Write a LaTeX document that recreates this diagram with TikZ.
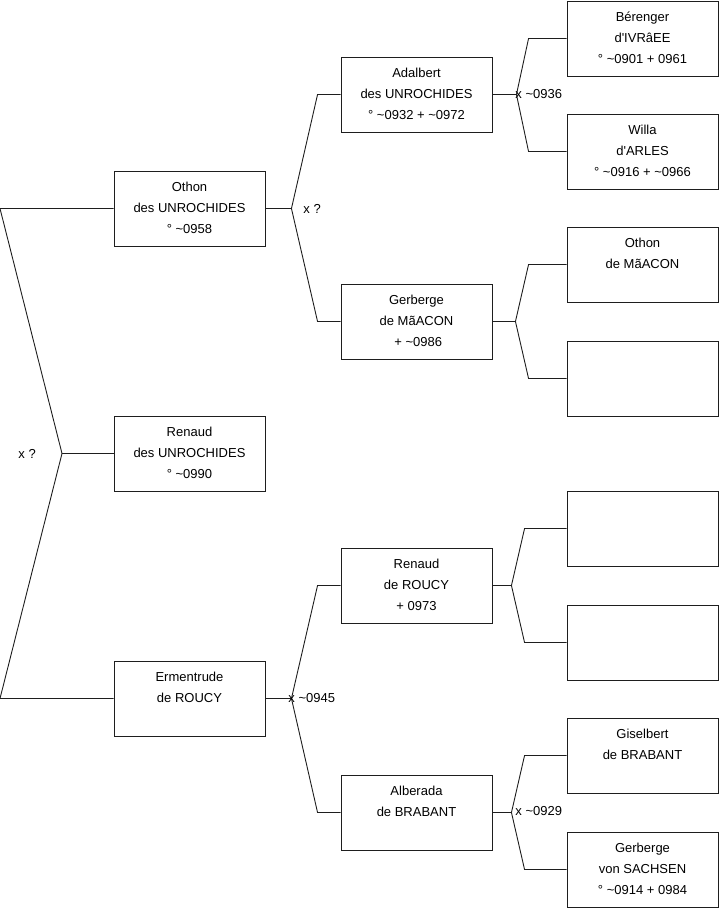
\documentclass[tikz,border=0pt]{standalone}
\usepackage{fontspec}
\setmainfont{Liberation Sans}
\usetikzlibrary{calc}
\definecolor{lnblack}{RGB}{30,30,30}

\begin{document}
\begin{tikzpicture}[
  x=1pt,y=-1pt,
  line width=0.9pt,
  person/.style={draw=lnblack,fill=white,minimum width=151pt,minimum height=75pt,inner sep=0pt,
    font=\fontsize{13pt}{21pt}\selectfont,
    execute at begin node={\begin{minipage}[t][75pt][t]{151pt}\centering\rule{0pt}{20pt}},
    execute at end node={\end{minipage}}},
  lbl/.style={font=\fontsize{13pt}{21pt}\selectfont,inner sep=0pt,anchor=west},
]
  \useasboundingbox (0,0) rectangle (719,908);
  % generation 1
  \node[person] (othon)      at (189.5,208.5) {Othon\\des UNROCHIDES\\° \textasciitilde0958};
  \node[person] (renaud)     at (189.5,453.5) {Renaud\\des UNROCHIDES\\° \textasciitilde0990};
  \node[person] (ermentrude) at (189.5,698.5) {Ermentrude\\de ROUCY};
  % generation 2
  \node[person] (adalbert)   at (416.5,94.5)  {Adalbert\\des UNROCHIDES\\° \textasciitilde0932 + \textasciitilde0972};
  \node[person] (gerberge)   at (416.5,321.5) {Gerberge\\de MãACON\\\ + \textasciitilde0986};
  \node[person] (renaudr)    at (416.5,585.5) {Renaud\\de ROUCY\\+ 0973};
  \node[person] (alberada)   at (416.5,812.5) {Alberada\\de BRABANT};
  % generation 3
  \node[person] (berenger)   at (642.5,38.5)  {Bérenger\\d\textquotesingle IVRâEE\\° \textasciitilde0901 + 0961};
  \node[person] (willa)      at (642.5,151.5) {Willa\\d\textquotesingle ARLES\\° \textasciitilde0916 + \textasciitilde0966};
  \node[person] (othonm)     at (642.5,264.5) {Othon\\de MãACON};
  \node[person] (vide1)      at (642.5,378.5) {};
  \node[person] (vide2)      at (642.5,528.5) {};
  \node[person] (vide3)      at (642.5,642.5) {};
  \node[person] (giselbert)  at (642.5,755.5) {Giselbert\\de BRABANT};
  \node[person] (gerbergevs) at (642.5,869.5) {Gerberge\\von SACHSEN\\° \textasciitilde0914 + 0984};

  % root fork
  \coordinate (r1) at (0,208.5);
  \coordinate (r2) at (0,698.5);
  \coordinate (rf) at (62,453.5);
  \draw[lnblack] (othon.west) -- (r1) -- (rf) -- (r2) -- (ermentrude.west);
  \draw[lnblack] (rf) -- (renaud.west);

  \foreach \p/\a/\b/\s/\g in {othon/adalbert/gerberge/26/23,ermentrude/renaudr/alberada/26/23,
      adalbert/berenger/willa/24/38,gerberge/othonm/vide1/23/38,
      renaudr/vide2/vide3/19/42,alberada/giselbert/gerbergevs/19/42} {
    \coordinate (\p-f) at ($(\p.east)+(\s,0)$);
    \draw[lnblack] (\p.east) -- (\p-f);
    \draw[lnblack] (\a.west) -- ++(-\g,0) -- (\p-f) -- ($(\b.west)+(-\g,0)$) -- (\b.west);
  }

  \node[lbl] (xroot) at (18,453.5)  {x ?};
  \node[lbl] (xothon) at (303,208.5) {x ?};
  \node[lbl] (xadal) at (515,94)     {x \textasciitilde0936};
  \node[lbl] (xerme) at (288,698.5)  {x \textasciitilde0945};
  \node[lbl] (xalbe) at (515,811)    {x \textasciitilde0929};
\end{tikzpicture}
\end{document}
